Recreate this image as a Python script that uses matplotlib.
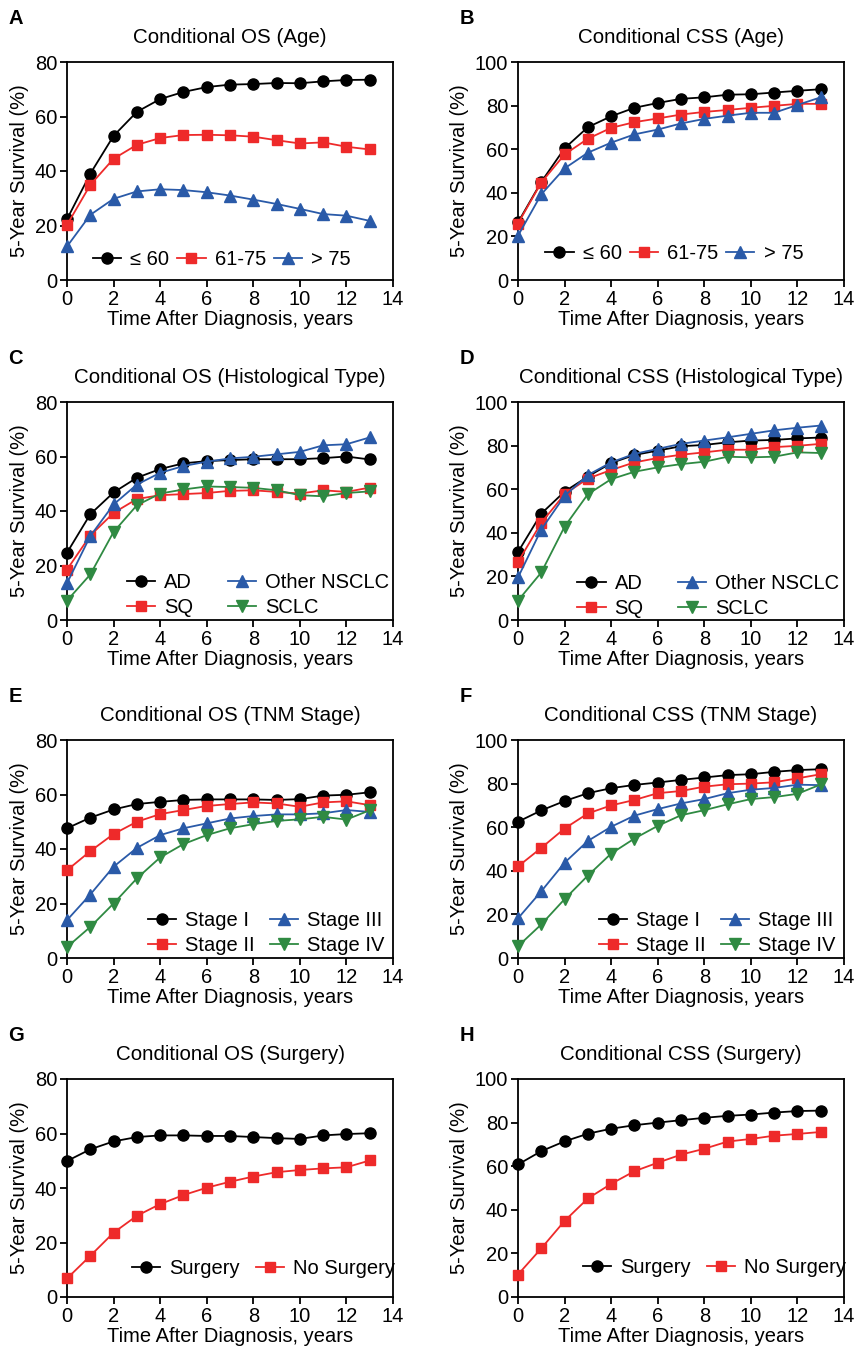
import matplotlib
matplotlib.use('Agg')
import matplotlib.pyplot as plt

plt.rcParams['font.family'] = ['Liberation Sans', 'DejaVu Sans']

years = list(range(14))

# A / B: age
os_age_le60 = [22.3, 39.0, 52.9, 61.7, 66.4, 69.0, 70.8, 71.7, 71.9, 72.3, 72.2, 72.9, 73.4, 73.5]
os_age_61_75 = [20.2, 34.9, 44.5, 49.6, 52.1, 53.2, 53.3, 53.1, 52.6, 51.3, 50.1, 50.5, 48.9, 47.9]
os_age_gt75 = [12.3, 23.9, 29.8, 32.5, 33.3, 33.0, 32.2, 31.0, 29.5, 27.9, 26.1, 24.2, 23.6, 21.7]
css_age_le60 = [26.4, 45.0, 60.4, 70.1, 75.1, 79.0, 81.2, 83.1, 83.8, 85.0, 85.2, 86.0, 86.8, 87.5]
css_age_61_75 = [25.9, 44.7, 57.6, 64.8, 69.8, 72.4, 74.1, 75.9, 77.1, 78.0, 79.0, 79.9, 80.8, 80.8]
css_age_gt75 = [20.3, 39.3, 51.2, 58.4, 63.0, 66.8, 69.0, 71.8, 73.9, 75.4, 76.7, 76.7, 80.3, 83.8]

# C / D: histological type
os_hist_ad = [24.7, 38.8, 46.8, 52.2, 55.4, 57.5, 58.3, 58.7, 59.0, 59.0, 59.0, 59.4, 60.0, 58.9]
os_hist_sq = [18.5, 31.0, 39.3, 44.4, 45.8, 46.2, 46.6, 47.4, 47.6, 47.0, 46.4, 47.6, 47.0, 48.6]
os_hist_other = [13.5, 30.8, 42.4, 49.7, 54.0, 56.5, 58.1, 59.3, 59.9, 60.8, 61.7, 64.1, 64.5, 67.0]
os_hist_sclc = [7.1, 16.7, 32.3, 42.1, 46.4, 47.9, 49.0, 48.8, 48.5, 47.6, 45.8, 45.4, 46.6, 47.2]
css_hist_ad = [31.2, 48.8, 58.9, 65.8, 72.0, 75.7, 77.7, 79.7, 80.3, 81.5, 82.3, 82.6, 83.3, 83.7]
css_hist_sq = [26.6, 44.6, 57.7, 64.9, 68.8, 72.3, 74.3, 75.8, 76.9, 78.1, 78.1, 79.3, 79.9, 80.8]
css_hist_other = [19.5, 41.5, 56.9, 66.5, 72.3, 76.2, 78.5, 80.8, 82.3, 83.8, 85.4, 87.0, 88.2, 89.2]
css_hist_sclc = [8.9, 21.8, 42.8, 57.7, 64.6, 68.0, 70.0, 71.5, 72.6, 74.9, 74.6, 74.9, 76.9, 76.6]

# E / F: TNM stage
os_tnm_1 = [47.6, 51.5, 54.5, 56.5, 57.3, 58.0, 58.2, 58.2, 58.2, 58.0, 58.3, 59.6, 59.9, 60.8]
os_tnm_2 = [32.2, 39.2, 45.5, 50.0, 52.8, 54.3, 55.8, 56.5, 57.1, 56.7, 55.5, 57.1, 57.5, 56.1]
os_tnm_3 = [13.9, 23.3, 33.5, 40.4, 45.1, 47.6, 49.4, 51.2, 52.1, 52.7, 52.7, 53.1, 54.3, 53.6]
os_tnm_4 = [4.0, 11.4, 20.0, 29.2, 36.9, 41.8, 45.1, 47.6, 49.1, 50.3, 50.9, 51.8, 50.8, 54.2]
css_tnm_1 = [62.5, 67.7, 72.0, 75.6, 77.9, 79.4, 80.5, 81.7, 82.8, 83.9, 84.3, 85.4, 86.2, 86.6]
css_tnm_2 = [42.0, 50.5, 59.4, 66.3, 70.0, 72.5, 75.6, 76.6, 78.6, 79.7, 80.0, 80.6, 82.4, 84.3]
css_tnm_3 = [18.2, 30.6, 43.7, 53.7, 60.2, 65.3, 68.3, 70.9, 72.9, 75.6, 77.2, 78.0, 79.5, 79.3]
css_tnm_4 = [5.4, 15.4, 27.0, 37.8, 47.9, 54.8, 60.6, 65.5, 67.8, 70.5, 72.9, 73.8, 75.3, 79.6]

# G / H: surgery
os_surg_yes = [49.9, 54.2, 57.1, 58.7, 59.3, 59.3, 59.1, 59.1, 58.7, 58.3, 58.0, 59.3, 59.8, 60.1]
os_surg_no = [6.8, 15.1, 23.6, 29.8, 34.1, 37.4, 40.1, 42.3, 44.2, 45.8, 46.6, 47.2, 47.6, 50.1]
css_surg_yes = [60.8, 66.9, 71.4, 74.9, 77.2, 78.8, 80.0, 81.1, 82.2, 83.1, 83.7, 84.6, 85.3, 85.5]
css_surg_no = [10.3, 22.3, 34.9, 45.2, 51.9, 57.7, 61.6, 65.3, 68.0, 71.3, 72.5, 74.0, 74.8, 75.7]

age_labels = ['\u2264 60', '61-75', '> 75']
hist_labels = ['AD', 'SQ', 'Other NSCLC', 'SCLC']
tnm_labels = ['Stage I', 'Stage II', 'Stage III', 'Stage IV']
surg_labels = ['Surgery', 'No Surgery']

BLACK = '#000000'
RED = '#ee2a2a'
BLUE = '#2a5aa8'
GREEN = '#2f8a42'
STYLES = [(BLACK, 'o', 8.0), (RED, 's', 7.4), (BLUE, '^', 8.2), (GREEN, 'v', 8.2)]

FS = 14.5

W, H = 858, 1348
fig = plt.figure(figsize=(W / 100, H / 100), dpi=100)


def make_axes(left_px, top_px, w_px, h_px):
    return fig.add_axes([left_px / W, 1 - (top_px + h_px) / H, w_px / W, h_px / H])


def draw_panel(ax, series, labels, title, letter, ymax, leg_anchor, ncol, colsp):
    for i, (vals, lab) in enumerate(zip(series, labels)):
        c, m, ms = STYLES[i]
        ax.plot(years, vals, color=c, marker=m, markersize=ms, lw=1.3,
                label=lab, clip_on=False, zorder=3 + i * 0.1)
    ax.set_xlim(0, 14)
    ax.set_ylim(0, ymax)
    ax.set_xticks(range(0, 15, 2))
    ax.set_yticks(range(0, ymax + 1, 20))
    ax.tick_params(direction='out', length=5, width=1.3, labelsize=FS, pad=2)
    for s in ax.spines.values():
        s.set_linewidth(1.3)
    ax.set_title(title, fontsize=FS + 0.3, pad=14)
    ax.set_xlabel('Time After Diagnosis, years', fontsize=FS, labelpad=1)
    ax.set_ylabel('5-Year Survival (%)', fontsize=FS, labelpad=4)
    ax.legend(loc='lower left', bbox_to_anchor=leg_anchor, ncol=ncol, frameon=False,
              fontsize=FS, borderpad=0, borderaxespad=0, handlelength=1.4,
              handletextpad=0.45, columnspacing=colsp, labelspacing=0.3)
    ax.text(-0.18, 1.245, letter, transform=ax.transAxes, fontsize=FS,
            fontweight='bold', va='top', ha='left')


rows = [62, 402, 740, 1079]
lefts = [67, 518]
aw, ah = 326, 218

axA = make_axes(lefts[0], rows[0], aw, ah)
draw_panel(axA, [os_age_le60, os_age_61_75, os_age_gt75], age_labels,
           'Conditional OS (Age)', 'A', 80, (0.08, 0.05), 3, 0.4)
axB = make_axes(lefts[1], rows[0], aw, ah)
draw_panel(axB, [css_age_le60, css_age_61_75, css_age_gt75], age_labels,
           'Conditional CSS (Age)', 'B', 100, (0.084, 0.08), 3, 0.4)

axC = make_axes(lefts[0], rows[1], aw, ah)
draw_panel(axC, [os_hist_ad, os_hist_sq, os_hist_other, os_hist_sclc], hist_labels,
           'Conditional OS (Histological Type)', 'C', 80, (0.184, 0.012), 2, 1.7)
axD = make_axes(lefts[1], rows[1], aw, ah)
draw_panel(axD, [css_hist_ad, css_hist_sq, css_hist_other, css_hist_sclc], hist_labels,
           'Conditional CSS (Histological Type)', 'D', 100, (0.182, 0.008), 2, 1.7)

axE = make_axes(lefts[0], rows[2], aw, ah)
draw_panel(axE, [os_tnm_1, os_tnm_2, os_tnm_3, os_tnm_4], tnm_labels,
           'Conditional OS (TNM Stage)', 'E', 80, (0.248, 0.015), 2, 0.75)
axF = make_axes(lefts[1], rows[2], aw, ah)
draw_panel(axF, [css_tnm_1, css_tnm_2, css_tnm_3, css_tnm_4], tnm_labels,
           'Conditional CSS (TNM Stage)', 'F', 100, (0.247, 0.015), 2, 0.75)

axG = make_axes(lefts[0], rows[3], aw, ah)
draw_panel(axG, [os_surg_yes, os_surg_no], surg_labels,
           'Conditional OS (Surgery)', 'G', 80, (0.199, 0.086), 2, 0.8)
axH = make_axes(lefts[1], rows[3], aw, ah)
draw_panel(axH, [css_surg_yes, css_surg_no], surg_labels,
           'Conditional CSS (Surgery)', 'H', 100, (0.198, 0.09), 2, 0.8)

fig.savefig('out.png', dpi=100)
